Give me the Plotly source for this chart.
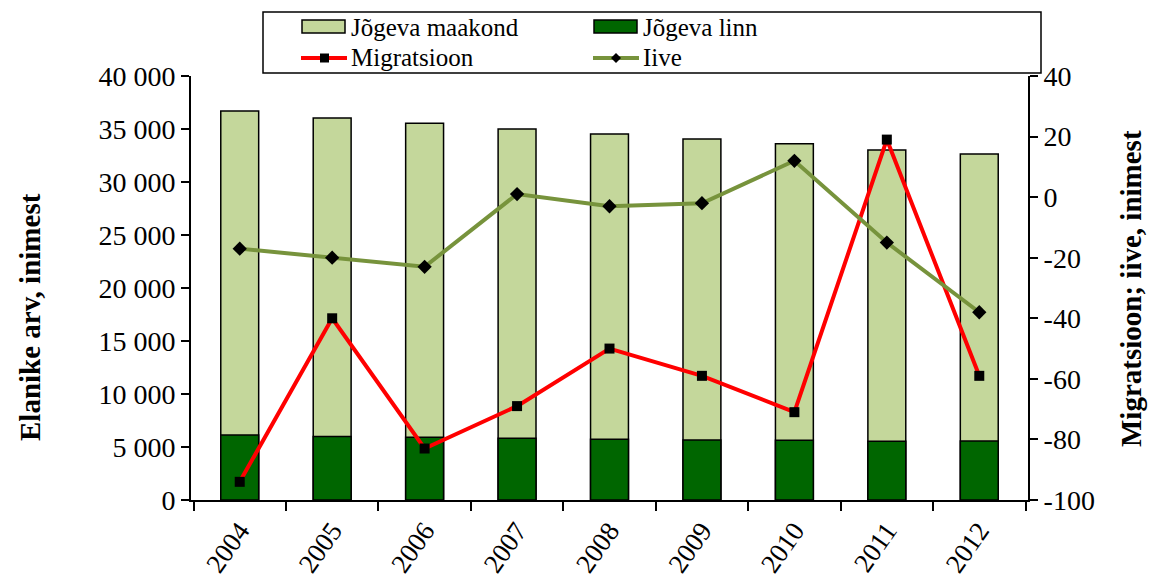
import plotly.graph_objects as go

years = ["2004", "2005", "2006", "2007", "2008", "2009", "2010", "2011", "2012"]
maakond = [36700, 36040, 35550, 35000, 34530, 34060, 33610, 33020, 32650]
linn = [6130, 5980, 5930, 5820, 5720, 5660, 5630, 5540, 5560]
migratsioon = [-94, -40, -83, -69, -50, -59, -71, 19, -59]
iive = [-17, -20, -23, 1, -3, -2, 12, -15, -38]

left_ticks = [0, 5000, 10000, 15000, 20000, 25000, 30000, 35000, 40000]
left_labels = ["0", "5 000", "10 000", "15 000", "20 000", "25 000", "30 000", "35 000", "40 000"]
right_ticks = [-100, -80, -60, -40, -20, 0, 20, 40]
right_labels = ["-100", "-80", "-60", "-40", "-20", "0", "20", "40"]

LIGHT = "#C4D79B"
DARK = "#006600"
RED = "#FF0000"
OLIVE = "#77933C"
FONT = "'Liberation Serif', 'Times New Roman', serif"

fig = go.Figure()
fig.add_trace(go.Bar(x=years, y=maakond, name="Jõgeva maakond", marker=dict(color=LIGHT, line=dict(color="black", width=1.5)), width=0.41, showlegend=False))
fig.add_trace(go.Bar(x=years, y=linn, name="Jõgeva linn", marker=dict(color=DARK, line=dict(color="black", width=1.5)), width=0.41, showlegend=False))
fig.add_trace(go.Scatter(x=years, y=migratsioon, name="Migratsioon", yaxis="y2", mode="lines+markers",
                         line=dict(color=RED, width=4), marker=dict(symbol="square", size=10, color="black"), showlegend=False))
fig.add_trace(go.Scatter(x=years, y=iive, name="Iive", yaxis="y2", mode="lines+markers",
                         line=dict(color=OLIVE, width=4), marker=dict(symbol="diamond", size=11, color="black"), showlegend=False))

# plot area in pixels
L, R, T, B = 191, 1028, 76, 500
W, H = R - L, B - T


def px(x):
    return (x - L) / W


def py(y):
    return (B - y) / H


shapes = []
annotations = []
# legend box
shapes.append(dict(type="rect", xref="paper", yref="paper", x0=px(263), x1=px(1041), y0=py(73), y1=py(12),
                   line=dict(color="black", width=1.5), fillcolor="white", layer="above"))
# bar swatches
shapes.append(dict(type="rect", xref="paper", yref="paper", x0=px(302), x1=px(345), y0=py(33), y1=py(20),
                   line=dict(color="black", width=1.5), fillcolor=LIGHT, layer="above"))
shapes.append(dict(type="rect", xref="paper", yref="paper", x0=px(594), x1=px(637), y0=py(33), y1=py(20),
                   line=dict(color="black", width=1.5), fillcolor=DARK, layer="above"))
# line swatches
shapes.append(dict(type="line", xref="paper", yref="paper", x0=px(301), x1=px(347), y0=py(58), y1=py(58),
                   line=dict(color=RED, width=4), layer="above"))
shapes.append(dict(type="rect", xref="paper", yref="paper", x0=px(320), x1=px(329), y0=py(62.5), y1=py(53.5),
                   line=dict(color="black", width=0), fillcolor="black", layer="above"))
shapes.append(dict(type="line", xref="paper", yref="paper", x0=px(593), x1=px(639), y0=py(58), y1=py(58),
                   line=dict(color=OLIVE, width=4), layer="above"))
dx, dy = 5 / W, 5 / H
cx, cy = px(616), py(58)
shapes.append(dict(type="path", xref="paper", yref="paper",
                   path=f"M {cx - dx} {cy} L {cx} {cy + dy} L {cx + dx} {cy} L {cx} {cy - dy} Z",
                   line=dict(color="black", width=0), fillcolor="black", layer="above"))

for text, x, y in [("Jõgeva maakond", 349, 27), ("Jõgeva linn", 641, 27), ("Migratsioon", 349, 58), ("Iive", 641, 58)]:
    annotations.append(dict(text=text, xref="paper", yref="paper", x=px(x), y=py(y), xanchor="left", yanchor="middle",
                            showarrow=False, font=dict(family=FONT, size=25, color="black")))

# axis titles
annotations.append(dict(text="<b>Elanike arv, inimest</b>", xref="paper", yref="paper", x=px(30), y=py(317),
                        xanchor="center", yanchor="middle", textangle=-90, showarrow=False,
                        font=dict(family=FONT, size=29, color="black")))
annotations.append(dict(text="<b>Migratsioon; iive, inimest</b>", xref="paper", yref="paper", x=px(1131), y=py(289),
                        xanchor="center", yanchor="middle", textangle=-90, showarrow=False,
                        font=dict(family=FONT, size=29, color="black")))

fig.update_layout(
    width=1152, height=580,
    margin=dict(l=L, r=1152 - R, t=T, b=580 - B, autoexpand=False),
    paper_bgcolor="white", plot_bgcolor="white",
    barmode="overlay",
    font=dict(family=FONT, size=28, color="black"),
    shapes=shapes, annotations=annotations,
    xaxis=dict(type="category", showline=True, linecolor="black", linewidth=2, ticks="outside", ticklen=9,
               tickwidth=2, tickcolor="black", tickson="boundaries", tickangle=-55, automargin=False,
               ticklabelstandoff=2, tickfont=dict(family=FONT, size=27), showgrid=False, zeroline=False),
    yaxis=dict(range=[0, 40000], tickvals=left_ticks, ticktext=left_labels, showline=True, linecolor="black",
               linewidth=2, ticks="outside", ticklen=8, tickwidth=2, tickcolor="black", showgrid=False,
               zeroline=False, tickfont=dict(family=FONT, size=28), automargin=False),
    yaxis2=dict(range=[-100, 40], overlaying="y", side="right", tickvals=right_ticks, ticktext=right_labels,
                showline=True, linecolor="black", linewidth=2, ticks="outside", ticklen=8, tickwidth=2,
                tickcolor="black", showgrid=False, zeroline=False, tickfont=dict(family=FONT, size=28),
                automargin=False),
)

fig.write_html("out.html", config={"displayModeBar": False},
               post_script="document.body.style.margin='0';document.body.style.overflow='hidden';")
